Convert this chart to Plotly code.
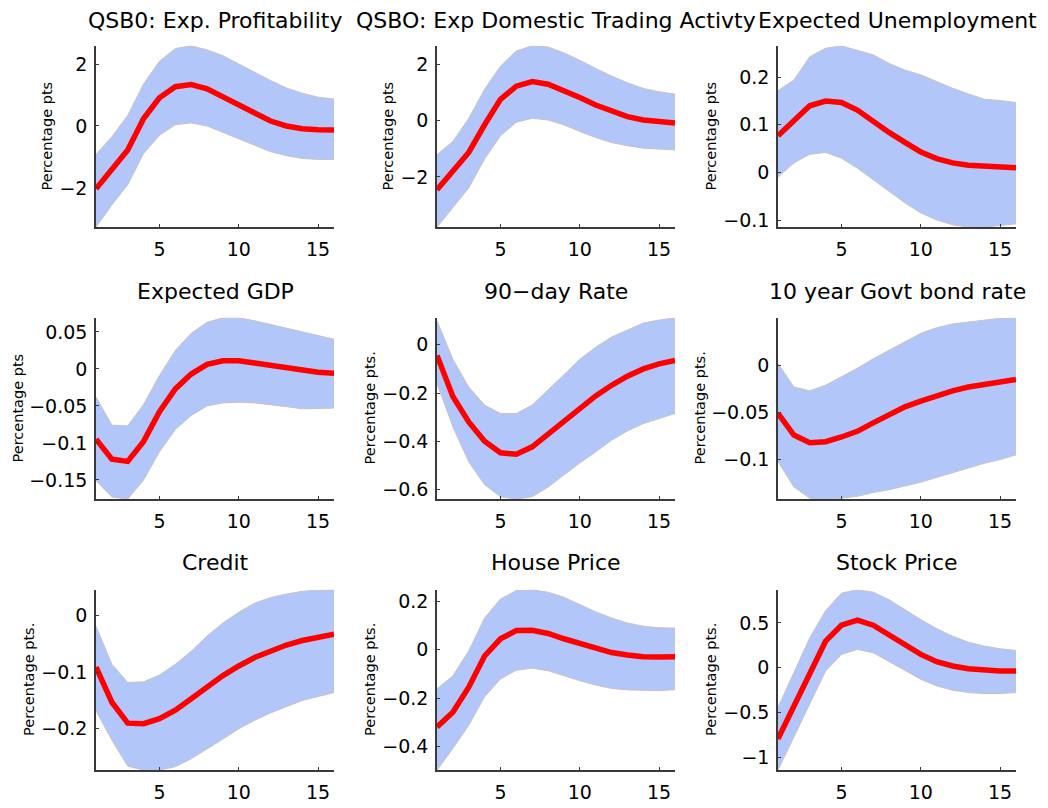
import plotly.graph_objects as go

W, H = 1048, 808

horizon = list(range(1, 17))

titles = ["QSB0: Exp. Profitability", "QSBO: Exp Domestic Trading Activty", "Expected Unemployment",
          "Expected GDP", "90\u2212day Rate", "10 year Govt bond rate",
          "Credit", "House Price", "Stock Price"]
ylabels = ["Percentage pts", "Percentage pts", "Percentage pts",
           "Percentage pts", "Percentage pts.", "Percentage pts.",
           "Percentage pts.", "Percentage pts.", "Percentage pts."]

# median responses and bands
profit_mid = [-2.03, -1.42, -0.78, 0.24, 0.91, 1.27, 1.34, 1.2, 0.93, 0.66, 0.4, 0.16, 0.0, -0.09, -0.12, -0.13]
profit_up = [-0.92, -0.35, 0.34, 1.36, 2.09, 2.5, 2.59, 2.46, 2.27, 2.0, 1.73, 1.47, 1.23, 1.06, 0.93, 0.87]
profit_lo = [-3.27, -2.55, -1.9, -0.89, -0.3, 0.04, 0.1, 0.0, -0.19, -0.41, -0.62, -0.83, -0.96, -1.05, -1.08, -1.08]

trade_mid = [-2.45, -1.8, -1.13, -0.15, 0.75, 1.22, 1.38, 1.29, 1.08, 0.82, 0.55, 0.32, 0.14, 0.02, -0.05, -0.09]
trade_up = [-1.21, -0.74, 0.08, 1.11, 1.93, 2.47, 2.65, 2.61, 2.4, 2.14, 1.85, 1.58, 1.34, 1.14, 1.02, 0.94]
trade_lo = [-3.78, -3.09, -2.39, -1.36, -0.54, -0.06, 0.08, 0.02, -0.15, -0.39, -0.6, -0.78, -0.89, -0.98, -1.02, -1.04]

unemp_mid = [0.077, 0.107, 0.14, 0.15, 0.147, 0.131, 0.107, 0.084, 0.063, 0.043, 0.029, 0.02, 0.015, 0.013, 0.011, 0.01]
unemp_up = [0.172, 0.194, 0.243, 0.261, 0.266, 0.257, 0.247, 0.229, 0.215, 0.205, 0.191, 0.177, 0.165, 0.154, 0.151, 0.147]
unemp_lo = [-0.01, 0.02, 0.038, 0.042, 0.03, 0.009, -0.015, -0.04, -0.064, -0.085, -0.1, -0.11, -0.115, -0.115, -0.112, -0.108]

gdp_mid = [-0.095, -0.122, -0.125, -0.098, -0.058, -0.027, -0.007, 0.006, 0.011, 0.011, 0.008, 0.0045, 0.0013, -0.002, -0.0045, -0.006]
gdp_up = [-0.038, -0.076, -0.077, -0.048, -0.009, 0.025, 0.048, 0.063, 0.069, 0.069, 0.065, 0.06, 0.055, 0.049, 0.045, 0.04]
gdp_lo = [-0.151, -0.173, -0.176, -0.15, -0.112, -0.082, -0.063, -0.05, -0.046, -0.045, -0.046, -0.048, -0.051, -0.054, -0.054, -0.053]

r90_mid = [-0.044, -0.214, -0.32, -0.4, -0.448, -0.454, -0.423, -0.371, -0.317, -0.262, -0.212, -0.168, -0.13, -0.1, -0.079, -0.065]
r90_up = [0.1, -0.06, -0.175, -0.25, -0.285, -0.285, -0.25, -0.189, -0.124, -0.06, -0.01, 0.032, 0.062, 0.09, 0.103, 0.112]
r90_lo = [-0.16, -0.34, -0.485, -0.58, -0.63, -0.64, -0.63, -0.59, -0.54, -0.49, -0.444, -0.396, -0.357, -0.327, -0.306, -0.285]

bond_mid = [-0.051, -0.074, -0.082, -0.081, -0.076, -0.07, -0.061, -0.052, -0.044, -0.038, -0.032, -0.027, -0.023, -0.02, -0.018, -0.015]
bond_up = [0.002, -0.023, -0.027, -0.021, -0.012, -0.003, 0.007, 0.016, 0.025, 0.034, 0.04, 0.044, 0.046, 0.048, 0.05, 0.0505]
bond_lo = [-0.102, -0.129, -0.141, -0.142, -0.141, -0.139, -0.135, -0.132, -0.128, -0.124, -0.119, -0.114, -0.109, -0.104, -0.1, -0.095]

credit_mid = [-0.091, -0.153, -0.19, -0.191, -0.182, -0.167, -0.147, -0.126, -0.106, -0.089, -0.074, -0.063, -0.052, -0.044, -0.038, -0.033]
credit_up = [-0.019, -0.086, -0.118, -0.117, -0.105, -0.086, -0.063, -0.036, -0.013, 0.006, 0.022, 0.032, 0.038, 0.043, 0.045, 0.0456]
credit_lo = [-0.168, -0.22, -0.266, -0.273, -0.273, -0.267, -0.253, -0.235, -0.218, -0.2, -0.185, -0.172, -0.161, -0.15, -0.143, -0.136]

house_mid = [-0.319, -0.258, -0.155, -0.026, 0.045, 0.079, 0.08, 0.067, 0.045, 0.025, 0.004, -0.012, -0.022, -0.029, -0.03, -0.029]
house_up = [-0.162, -0.108, -0.005, 0.131, 0.209, 0.244, 0.247, 0.237, 0.216, 0.186, 0.156, 0.131, 0.11, 0.097, 0.09, 0.089]
house_lo = [-0.497, -0.408, -0.312, -0.194, -0.121, -0.085, -0.076, -0.087, -0.108, -0.128, -0.146, -0.16, -0.166, -0.169, -0.169, -0.165]

stock_mid = [-0.796, -0.437, -0.056, 0.296, 0.474, 0.53, 0.474, 0.37, 0.252, 0.148, 0.067, 0.019, -0.011, -0.03, -0.037, -0.037]
stock_up = [-0.444, -0.056, 0.333, 0.637, 0.833, 0.87, 0.844, 0.759, 0.648, 0.537, 0.437, 0.352, 0.285, 0.241, 0.211, 0.193]
stock_lo = [-1.145, -0.77, -0.407, -0.037, 0.148, 0.204, 0.167, 0.074, -0.03, -0.13, -0.204, -0.252, -0.278, -0.289, -0.289, -0.278]

mids = [profit_mid, trade_mid, unemp_mid, gdp_mid, r90_mid, bond_mid, credit_mid, house_mid, stock_mid]
ups = [profit_up, trade_up, unemp_up, gdp_up, r90_up, bond_up, credit_up, house_up, stock_up]
los = [profit_lo, trade_lo, unemp_lo, gdp_lo, r90_lo, bond_lo, credit_lo, house_lo, stock_lo]

ytickvals = [[-2, 0, 2], [-2, 0, 2], [-0.1, 0, 0.1, 0.2],
             [-0.15, -0.1, -0.05, 0, 0.05], [-0.6, -0.4, -0.2, 0], [-0.1, -0.05, 0],
             [-0.2, -0.1, 0], [-0.4, -0.2, 0, 0.2], [-1, -0.5, 0, 0.5]]
yticktext = [["\u22122", "0", "2"], ["\u22122", "0", "2"], ["\u22120.1", "0", "0.1", "0.2"],
             ["\u22120.15", "\u22120.1", "\u22120.05", "0", "0.05"], ["\u22120.6", "\u22120.4", "\u22120.2", "0"],
             ["\u22120.1", "\u22120.05", "0"], ["\u22120.2", "\u22120.1", "0"],
             ["\u22120.4", "\u22120.2", "0", "0.2"], ["\u22121", "\u22120.5", "0", "0.5"]]
xtickvals = [5, 10, 15]

# layout in pixels
col_px = [(96, 334), (437, 675), (778, 1016)]
row_px = [(46, 228), (319, 501), (592, 773)]
title_px = [21, 293, 565]
ylabel_x_px = [47, 388, 711, 18, 370, 700, 29, 370, 711]

FONT = "DejaVu Sans"
AX = "#3a3a3a"

fig = go.Figure()
annotations = []
for i in range(9):
    r, c = divmod(i, 3)
    n = i + 1
    xa = "x" if n == 1 else f"x{n}"
    ya = "y" if n == 1 else f"y{n}"
    x0, x1 = col_px[c]
    y0, y1 = row_px[r]
    xs = horizon
    fig.add_trace(go.Scatter(
        x=xs + xs[::-1], y=ups[i] + los[i][::-1], mode="lines", fill="toself",
        fillcolor="#b3c6f9", line=dict(color="#c4c4c4", width=1),
        xaxis=xa, yaxis=ya, hoverinfo="skip", showlegend=False))
    fig.add_trace(go.Scatter(
        x=xs, y=mids[i], mode="lines", line=dict(color="#ff0000", width=5.5),
        xaxis=xa, yaxis=ya, showlegend=False))
    common = dict(showline=True, linecolor=AX, linewidth=1.5, ticks="inside", ticklen=3,
                  tickcolor=AX, tickwidth=1, showgrid=False, zeroline=False, mirror=False,
                  tickfont=dict(family=FONT, size=19, color="#000000"))
    ymin = min(los[i]); ymax = max(ups[i])
    fig.layout[("xaxis" if n == 1 else f"xaxis{n}")] = dict(
        domain=[x0 / W, x1 / W], anchor=ya, range=[1, 16], tickvals=xtickvals,
        ticklabelstandoff=4, **common)
    fig.layout[("yaxis" if n == 1 else f"yaxis{n}")] = dict(
        domain=[1 - y1 / H, 1 - y0 / H], anchor=xa, range=[ymin, ymax],
        tickvals=ytickvals[i], ticktext=yticktext[i], ticklabelstandoff=3, **common)
    annotations.append(dict(
        x=(x0 + x1) / 2 / W, y=1 - title_px[r] / H, xref="paper", yref="paper",
        text=titles[i], showarrow=False, xanchor="center", yanchor="middle",
        font=dict(family=FONT, size=22, color="#000000")))
    annotations.append(dict(
        x=ylabel_x_px[i] / W, y=1 - (y0 + y1) / 2 / H, xref="paper", yref="paper",
        text=ylabels[i], showarrow=False, textangle=-90, xanchor="center", yanchor="middle",
        font=dict(family=FONT, size=14.5, color="#000000")))

fig.update_layout(width=W, height=H, margin=dict(l=0, r=0, t=0, b=0),
                  paper_bgcolor="white", plot_bgcolor="white",
                  annotations=annotations, showlegend=False)
fig.write_html("out.html")
